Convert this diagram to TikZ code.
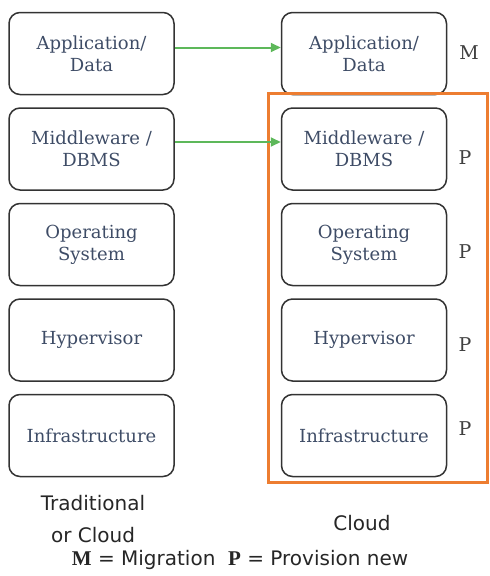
\documentclass[tikz,border=0pt]{standalone}
\usepackage{fontspec}
\setmainfont{DejaVu Serif}
\setsansfont{DejaVu Sans}
\newfontfamily\keyserif{Liberation Serif}
\usetikzlibrary{positioning,arrows.meta}
\definecolor{boxtext}{HTML}{3E4C66}
\definecolor{migrate}{HTML}{5DB85A}
\definecolor{cloudedge}{HTML}{ED7D31}
\begin{document}
\begin{tikzpicture}[
    x = 1pt, y = -1pt,
    node distance = 12pt and 106pt,
    layer/.style = {draw = black!80, rounded corners = 11pt, line width = 1.5pt,
        minimum width = 165pt, minimum height = 82pt, align = center,
        text = boxtext, font = \fontsize{18}{22}\selectfont},
    tag/.style = {font = \fontsize{19}{22}\selectfont, text = black!75},
    caption/.style = {font = \sffamily\fontsize{20}{32}\selectfont, align = center, text = black!85},
    mig/.style = {draw = migrate, line width = 2pt, -{Triangle[length=10pt,width=9pt]}}
]
\useasboundingbox (0,0) rectangle (490,576);

% Traditional stack
\node[layer] (app)   at (91.5,53.5) {Application/\\Data};
\node[layer] (mid)   [below=of app] {Middleware /\\DBMS};
\node[layer] (os)    [below=of mid] {Operating\\System};
\node[layer] (hyp)   [below=of os]  {Hypervisor};
\node[layer] (infra) [below=of hyp] {Infrastructure};

% Cloud stack
\node[layer] (capp)   [right=of app]   {Application/\\Data};
\node[layer] (cmid)   [right=of mid]   {Middleware /\\DBMS};
\node[layer] (cos)    [right=of os]    {Operating\\System};
\node[layer] (chyp)   [right=of hyp]   {Hypervisor};
\node[layer] (cinfra) [right=of infra] {Infrastructure};

% Provisioned part
\draw[cloudedge, line width = 3pt] (268.5,93.5) rectangle (487.5,482);

% Tags
\node[tag] (m)  at (469,53)  {M};
\node[tag] (p1) at (465,158) {P};
\node[tag] (p2) at (465,252) {P};
\node[tag] (p3) at (465,345) {P};
\node[tag] (p4) at (465,429) {P};

% Migration arrows
\draw[mig] (app.east |- 0,47.5) -- (capp.west |- 0,47.5);
\draw[mig] (mid.east |- 0,142) -- (cmid.west |- 0,142);

% Captions
\node[caption] (trad)  at (93,519)  {Traditional\\or Cloud};
\node[caption] (cloud) at (362,523) {Cloud};
\node[caption, font = \sffamily\fontsize{20}{22}\selectfont] (key) at (240,560)
    {{\keyserif\bfseries\fontsize{21}{22}\selectfont M} = Migration\ \ {\keyserif\bfseries\fontsize{21}{22}\selectfont P} = Provision new};

\end{tikzpicture}
\end{document}
